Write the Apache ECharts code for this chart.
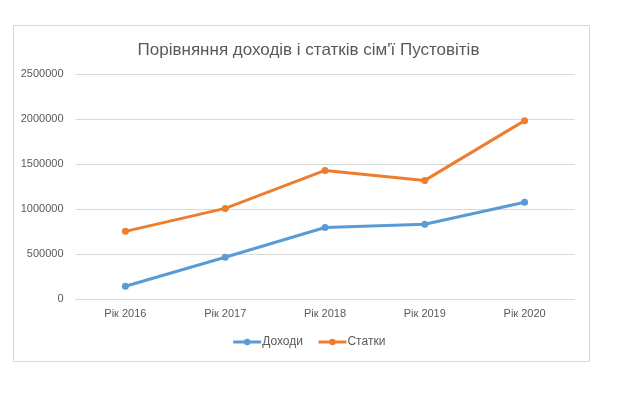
<!DOCTYPE html>
<html>
<head>
<meta charset="utf-8">
<script src="https://cdn.jsdelivr.net/npm/echarts@6/dist/echarts.min.js"></script>
<style>html,body{margin:0;padding:0;background:#fff;}#c{width:617px;height:393px;}</style>
</head>
<body>
<div id="c"></div>
<script>
const categories = ['Рік 2016', 'Рік 2017', 'Рік 2018', 'Рік 2019', 'Рік 2020'];
const incomeValues = [145000, 467000, 798000, 833000, 1078000];
const expenseValues = [755000, 1010000, 1432000, 1321000, 1985000];
const yTicks = [0, 500000, 1000000, 1500000, 2000000, 2500000];
const seriesNames = ['Доходи', 'Статки'];

const chart = echarts.init(document.getElementById('c'), null, {renderer: 'canvas'});
const font = 'Liberation Sans, Arial, sans-serif';
chart.setOption({
  animation: false,
  backgroundColor: '#ffffff',
  graphic: [{
    type: 'rect', silent: true, z: -1,
    shape: {x: 13.5, y: 25.5, width: 576, height: 336},
    style: {fill: '#ffffff', stroke: '#D9D9D9', lineWidth: 1}
  }],
  title: {
    text: 'Порівняння доходів і статків сім\'ї Пустовітів',
    left: 'center', top: 37,
    textStyle: {fontFamily: font, fontSize: 17, fontWeight: 'normal', color: '#595959'}
  },
  grid: {left: 75.5, right: 42.5, top: 74.3, bottom: 93.7, containLabel: false},
  legend: {
    show: true,
    data: seriesNames,
    top: 331, left: 'center',
    itemWidth: 28, itemHeight: 8, itemGap: 14,
    lineStyle: {width: 3},
    textStyle: {fontFamily: font, fontSize: 12, color: '#595959', padding: [0, 0, 0, -4]}
  },
  xAxis: {
    type: 'category', data: categories, boundaryGap: true,
    axisLine: {show: true, lineStyle: {color: '#D9D9D9'}},
    axisTick: {show: false},
    axisLabel: {fontFamily: font, fontSize: 11, color: '#595959', margin: 9}
  },
  yAxis: {
    type: 'value', min: yTicks[0], max: yTicks[yTicks.length - 1], interval: 500000,
    axisLine: {show: false}, axisTick: {show: false},
    splitLine: {lineStyle: {color: '#D9D9D9'}},
    axisLabel: {fontFamily: font, fontSize: 11, color: '#595959', margin: 12,
      formatter: function (v) { return String(v); }}
  },
  series: [{
    name: seriesNames[0], type: 'line', data: incomeValues,
    symbol: 'circle', symbolSize: 7,
    itemStyle: {color: '#5B9BD5'},
    lineStyle: {width: 3, color: '#5B9BD5'}
  }, {
    name: seriesNames[1], type: 'line', data: expenseValues,
    symbol: 'circle', symbolSize: 7,
    itemStyle: {color: '#ED7D31'},
    lineStyle: {width: 3, color: '#ED7D31'}
  }]
});
</script>
</body>
</html>
